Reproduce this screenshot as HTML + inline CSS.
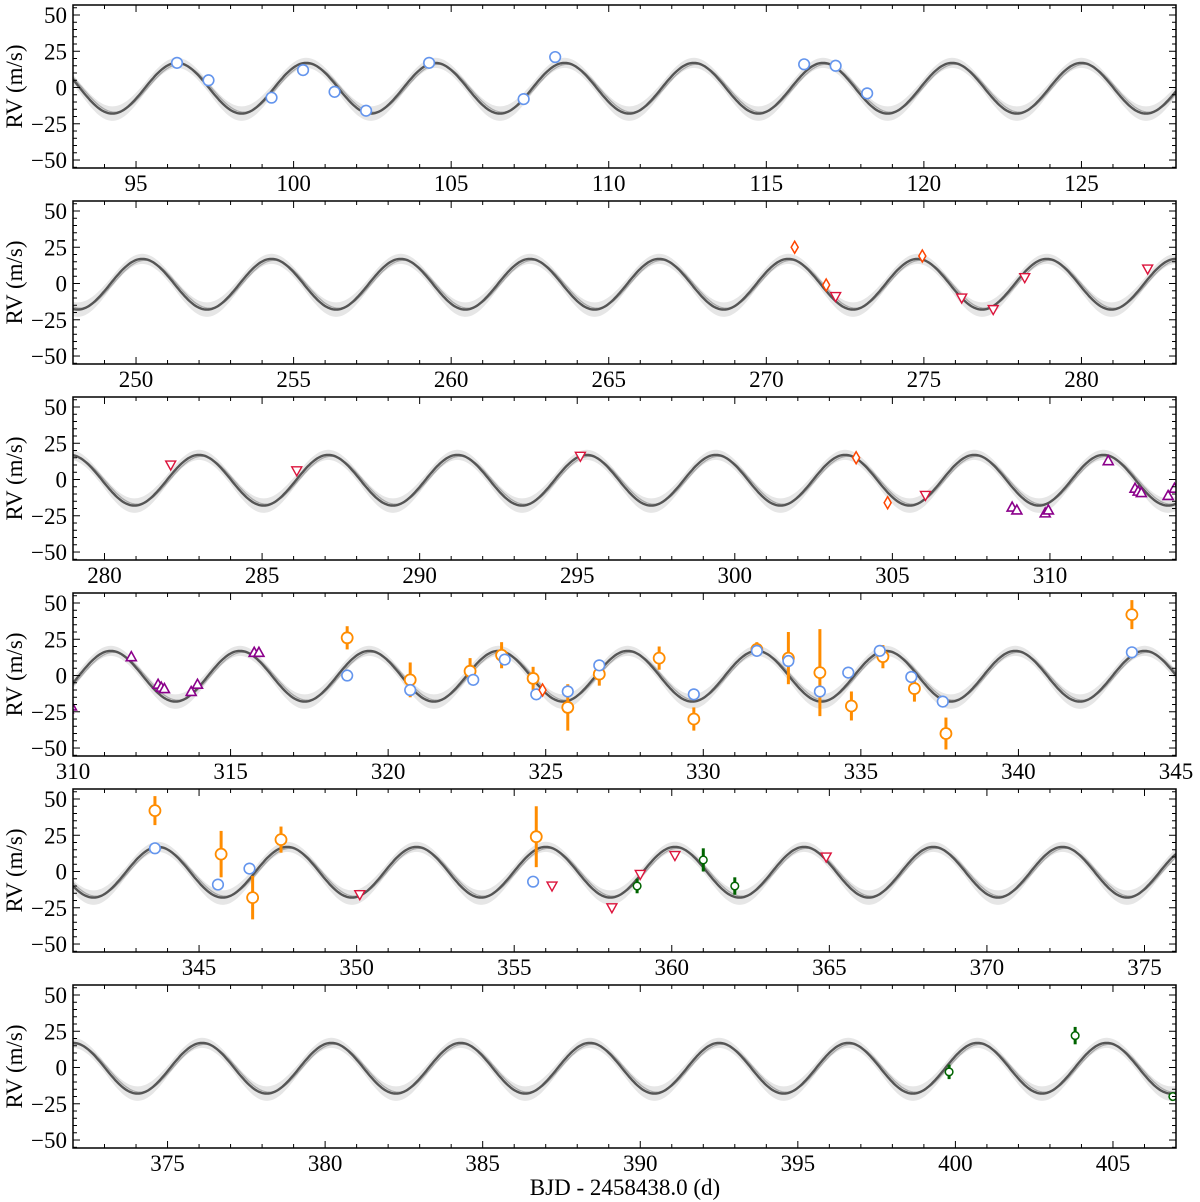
<!DOCTYPE html>
<html><head><meta charset="utf-8"><style>
body{margin:0;background:#fff}
svg{display:block}
text{font-family:"Liberation Serif",serif;fill:#000}
</style></head><body>
<svg id="chart" width="1200" height="1202" viewBox="0 0 1200 1202" xmlns="http://www.w3.org/2000/svg"></svg>
<script>
// ---- data ----
const panelStart = [93, 248, 279, 310, 341, 372];
const panelSpan = 35;
const yTicks = [50, 25, 0, -25, -50];
const period = 4.1;
const modelPeaks = [96.3, 250.2, 283.0, 319.4, 343.7, 376.1];
const modelAmp = 17.5;
const altShift = 0.08;
// instrument series: [t, rv, err]
const blueT = [96.3,97.3,99.3,100.3,101.3,102.3,104.3,107.3,108.3,116.2,117.2,118.2,318.7,320.7,322.7,323.7,324.7,325.7,326.7,329.7,331.7,332.7,333.7,334.6,335.6,336.6,337.6,343.6,345.6,346.6,355.6];
const blueV = [17,5,-7,12,-3,-16,17,-8,21,16,15,-4,0,-10,-3,11,-13,-11,7,-13,17,10,-11,2,17,-1,-18,16,-9,2,-7];
const orangeT = [318.7,320.7,322.6,323.6,324.6,325.7,326.7,328.6,329.7,331.7,332.7,333.7,334.7,335.7,336.7,337.7,343.6,345.7,346.7,347.6,355.7];
const orangeV = [26,-3,3,14,-2,-22,1,12,-30,18,12,2,-21,13,-9,-40,42,12,-18,22,24];
const orangeE = [8,12,9,9,8,16,8,8,8,5,18,30,10,8,9,11,10,16,15,9,21];
const diamondT = [270.9,271.9,274.95,303.85,304.85,324.9];
const diamondV = [25,-1,19,15,-16,-10];
const downT = [272.2,276.2,277.2,278.2,282.1,286.1,295.1,306.05,350.1,356.2,358.1,359.0,360.1,364.9];
const downV = [-9,-10,-18,4,10,6,16,-11,-16,-10,-25,-2,11,10];
const upT = [308.8,308.95,309.85,309.95,311.85,312.7,312.8,312.9,313.75,313.95,315.75,315.9];
const upV = [-19,-21,-23,-21,13,-6,-8,-9,-11,-6,16,16];
const greenT = [358.9,361.0,362.0,399.8,403.8,406.9];
const greenV = [-10,8,-10,-3,22,-20];
const greenE = [5,8,6,5,6,2];

// ---- layout ----
const NS = "http://www.w3.org/2000/svg";
const svg = document.getElementById('chart');
const L = 73, R = 1176, H = 163, yMax = 56.9, yMin = -55.5;
function mk(tag, attrs, parent){ const e=document.createElementNS(NS,tag); for(const k in attrs) e.setAttribute(k,attrs[k]); (parent||svg).appendChild(e); return e; }

panelStart.forEach((x0, p) => {
  const top = 5 + 196*p;
  const xs = t => L + (t - x0) / panelSpan * (R - L);
  const ys = v => top + (yMax - v) / (yMax - yMin) * H;
  const g = mk('g', {});
  
  
  const clipId = 'clip' + p;
  const cp = mk('clipPath', {id: clipId}, g);
  mk('rect', {x: L, y: top, width: R-L, height: H}, cp);
  const plot = mk('g', {'clip-path': 'url(#' + clipId + ')'}, g);
  
  

  const peak = modelPeaks[p];
  const f = (t, sh, a) => a * Math.cos(2*Math.PI*(t - peak - sh)/period) - 0.5;
  let up = [], dn = [], main = [], alt = [];
  for (let i = 0; i <= 700; i++) {
    const t = x0 + panelSpan * i / 700;
    const m = f(t, 0, modelAmp);
    const w = 3.5 + 1.5 * Math.max(0, -Math.cos(2*Math.PI*(t-peak)/period));
    up.push(xs(t).toFixed(1) + ',' + ys(m + w).toFixed(1));
    dn.unshift(xs(t).toFixed(1) + ',' + ys(m - w).toFixed(1));
    main.push(xs(t).toFixed(1) + ',' + ys(m).toFixed(1));
    alt.push(xs(t).toFixed(1) + ',' + ys(f(t, altShift, modelAmp - 1)).toFixed(1));
  }
  const band = mk('polygon', {points: up.concat(dn).join(' '), fill: '#e6e6e6'}, plot);
  
  
  const altL = mk('polyline', {points: alt.join(' '), fill: 'none', stroke: '#aaaaaa', 'stroke-width': 1.3}, plot);
  
  
  const mainL = mk('polyline', {points: main.join(' '), fill: 'none', stroke: '#555555', 'stroke-width': 2.4}, plot);
  
  

  const inR = t => t >= x0 - 0.5 && t <= x0 + panelSpan + 0.5;
  orangeT.forEach((t, i) => { if (!inR(t)) return;
    const eb = mk('line', {x1: xs(t), x2: xs(t), y1: ys(orangeV[i]+orangeE[i]), y2: ys(orangeV[i]-orangeE[i]), stroke: '#ff8c00', 'stroke-width': 3}, plot);
    
    
    const c = mk('circle', {cx: xs(t), cy: ys(orangeV[i]), r: 5.5, fill: '#fff', stroke: '#ff8c00', 'stroke-width': 1.8}, plot);
    
    
  });
  blueT.forEach((t, i) => { if (!inR(t)) return;
    const c = mk('circle', {cx: xs(t), cy: ys(blueV[i]), r: 5.3, fill: '#fff', stroke: '#6495ed', 'stroke-width': 1.6}, plot);
    
    
  });
  diamondT.forEach((t, i) => { if (!inR(t)) return;
    const x = xs(t), y = ys(diamondV[i]);
    const d = mk('polygon', {points: `${x},${y-6} ${x+3.5},${y} ${x},${y+6} ${x-3.5},${y}`, fill: '#fff', stroke: '#ff4500', 'stroke-width': 1.5}, plot);
    
    
  });
  downT.forEach((t, i) => { if (!inR(t)) return;
    const x = xs(t), y = ys(downV[i]);
    const d = mk('polygon', {points: `${x-5},${y-4} ${x+5},${y-4} ${x},${y+5}`, fill: '#fff', stroke: '#dc143c', 'stroke-width': 1.4}, plot);
    
    
  });
  upT.forEach((t, i) => { if (!inR(t)) return;
    const x = xs(t), y = ys(upV[i]);
    const d = mk('polygon', {points: `${x-5},${y+4} ${x+5},${y+4} ${x},${y-5}`, fill: '#fff', stroke: '#8b008b', 'stroke-width': 1.6}, plot);
    
    
  });
  greenT.forEach((t, i) => { if (!inR(t)) return;
    const eb = mk('line', {x1: xs(t), x2: xs(t), y1: ys(greenV[i]+greenE[i]), y2: ys(greenV[i]-greenE[i]), stroke: '#006400', 'stroke-width': 3}, plot);
    
    
    const c = mk('circle', {cx: xs(t), cy: ys(greenV[i]), r: 3.8, fill: '#fff', stroke: '#006400', 'stroke-width': 1.5}, plot);
    
    
  });

  const fr = mk('rect', {x: L, y: top, width: R-L, height: H, fill: 'none', stroke: '#000', 'stroke-width': 1.5}, g);
  
  
  for (let t = Math.ceil(x0); t <= x0 + panelSpan; t++) {
    const x = xs(t), major = t % 5 === 0, len = major ? 7 : 4;
    mk('line', {x1: x, x2: x, y1: top+H, y2: top+H-len, stroke: '#000', 'stroke-width': 1}, g);
    mk('line', {x1: x, x2: x, y1: top, y2: top+len, stroke: '#000', 'stroke-width': 1}, g);
    if (major) {
      const tx = mk('text', {x: x, y: top+H+23, 'text-anchor': 'middle', 'font-size': 23}, g);
      tx.textContent = t;
      
      
    }
  }
  for (let v = -55; v <= 55; v += 5) {
    const y = ys(v), major = v % 25 === 0, len = major ? 7 : 4;
    mk('line', {x1: L, x2: L+len, y1: y, y2: y, stroke: '#000', 'stroke-width': 1}, g);
    mk('line', {x1: R, x2: R-len, y1: y, y2: y, stroke: '#000', 'stroke-width': 1}, g);
  }
  yTicks.forEach(v => {
    const tx = mk('text', {x: 67, y: ys(v)+8, 'text-anchor': 'end', 'font-size': 23}, g);
    tx.textContent = v < 0 ? '\u2212' + (-v) : String(v);
    
    
  });
  const yl = mk('text', {x: 0, y: 0, 'text-anchor': 'middle', 'font-size': 23, transform: `translate(22,${top+H/2}) rotate(-90)`}, g);
  yl.textContent = 'RV (m/s)';
  
  
});
const xl = mk('text', {x: 625, y: 1195, 'text-anchor': 'middle', 'font-size': 23});
xl.textContent = 'BJD - 2458438.0 (d)';


</script>
</body></html>
